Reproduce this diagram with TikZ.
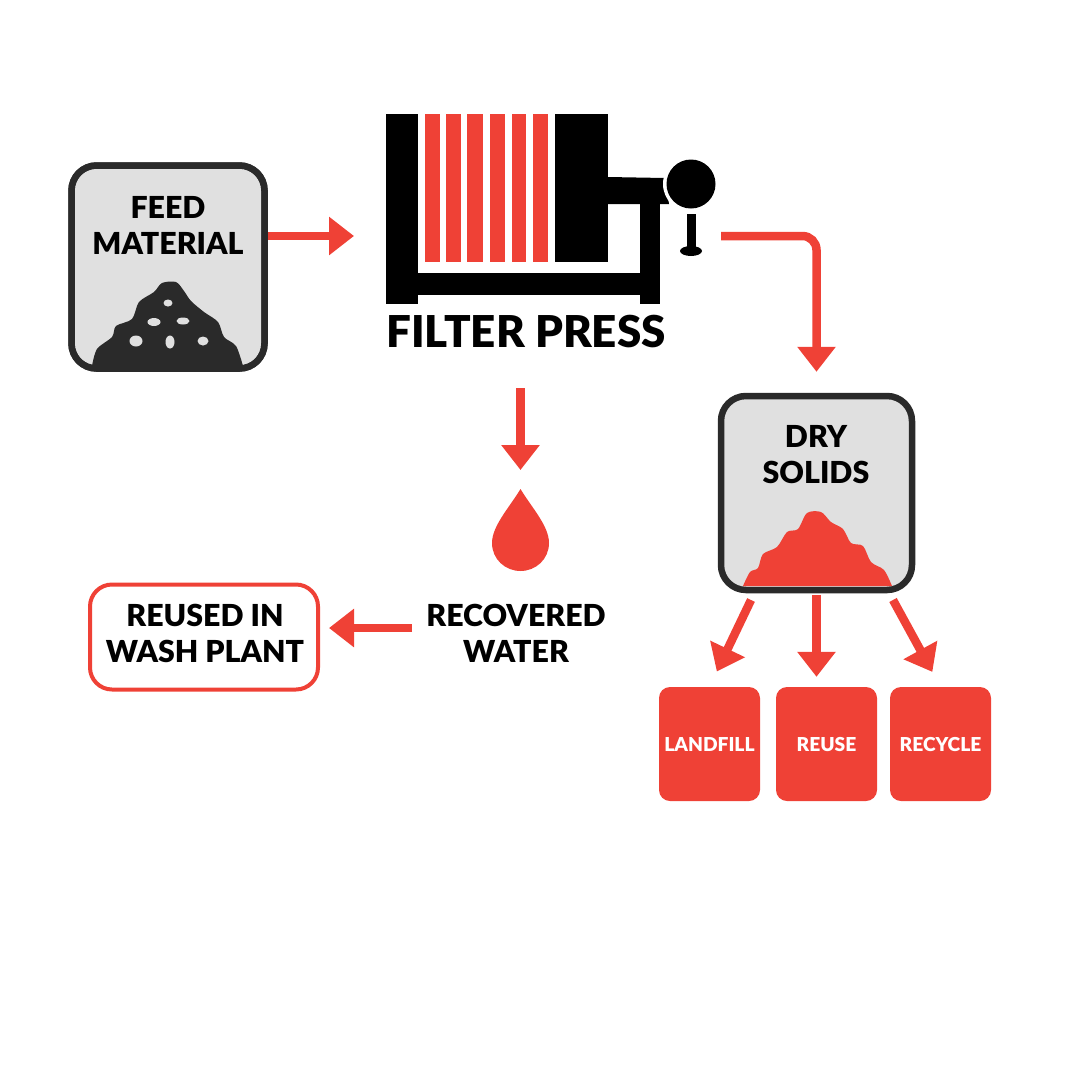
\documentclass[tikz,border=0pt]{standalone}
\usepackage{fontspec}
\setmainfont{Lato}[BoldFont={Lato Black}]
\usetikzlibrary{arrows.meta}
\definecolor{flowred}{HTML}{EF4136}
\definecolor{boxgray}{HTML}{E0E0E0}
\definecolor{boxline}{HTML}{2A2A2A}

\begin{document}
\begin{tikzpicture}[x=1pt, y=-1pt]

\def\BoxWidth{193pt}
\def\BoxHeight{200pt}
\def\BinWidth{101pt}
\def\BinHeight{114pt}

% Styles
\tikzstyle{box} =
	[draw=boxline, fill=boxgray, line width=6.5pt, rounded corners=25pt,
	 minimum width=\BoxWidth, minimum height=\BoxHeight]

\tikzstyle{bin} =
	[fill=flowred, text=white, rounded corners=11pt, inner sep=0pt,
	 minimum width=\BinWidth, minimum height=\BinHeight,
	 font=\fontsize{19.2}{23}\selectfont\bfseries]

\tikzstyle{label text} =
	[align=center, inner sep=0pt, font=\fontsize{30.3}{36}\selectfont\bfseries]

\tikzstyle{flow} =
	[draw=flowred, line width=8.5pt, -{Triangle[length=25pt, width=37pt]}]

\useasboundingbox (0, 0) rectangle (1080, 1080);

% Modules

\node (FeedMaterial) at (168, 267) [box, minimum height=203pt] {};
\fill[boxline] plot[smooth] coordinates {(92,366) (97,349) (112,337) (116,326)
	(132,319) (139,302) (154,292) (162,283) (176,282) (184,291) (191,301)
	(204,312) (218,322) (224,337) (236,346) (243,366)} -- cycle;
\foreach \PebbleX/\PebbleY/\PebbleA/\PebbleB in
	{168/303/4.5/3.5, 154/322/6.5/4, 183/321/6.5/3.5, 136/341/6.5/5.5, 170/342/4.5/6.5, 203/341/5.5/4.5}
	\fill[boxgray] (\PebbleX, \PebbleY) ellipse [x radius=\PebbleA, y radius=\PebbleB];
\draw[boxline, line width=6.5pt, rounded corners=25pt]
	(FeedMaterial.south west) ++(3.25, -3.25) rectangle ([xshift=-3.25pt, yshift=-3.25pt]FeedMaterial.north east);
\node (FeedLabel) at (168, 225) [label text] {FEED\\MATERIAL};

% the press itself
\fill (386, 114) rectangle (418, 304);
\fill (418, 273) rectangle (640, 295);
\fill (640, 204) rectangle (660, 304);
\fill (555, 114) rectangle (608, 262);
\fill (608, 177) -- (665, 178) -- (669, 204) -- (608, 204) -- cycle;
\foreach \PlateL/\PlateR in {425/440, 446/461, 467/483, 490/505, 512/526, 533/548}
	\fill[flowred] (\PlateL, 114) rectangle (\PlateR, 262);
\fill[white] (691, 184) circle (28);
\fill (691, 184) circle (24.5);
\fill (687, 214) rectangle (696, 250);
\fill (691, 251) ellipse [x radius=11, y radius=5];
\node (FilterPress) at (526, 332) [label text, font=\fontsize{43.9}{50}\selectfont\bfseries] {FILTER PRESS};

\node (DrySolids) at (816.5, 493) [box, minimum width=191pt, minimum height=194pt] {};
\fill[flowred] plot[smooth] coordinates {(743,586) (750,572) (758,568) (763,554)
	(777,547) (787,532) (798,529) (807,513) (821,512) (831,522) (843,529)
	(851,543) (863,546) (871,562) (884,570) (892,586)} -- cycle;
\node (DryLabel) at (816, 455) [label text] {DRY\\SOLIDS};

\fill[flowred] (520.5, 489) .. controls (509, 508) and (492, 526) .. (492, 543)
	.. controls (492, 559) and (505, 571) .. (520.5, 571)
	.. controls (536, 571) and (549, 559) .. (549, 543)
	.. controls (549, 526) and (532, 508) .. (520.5, 489) -- cycle;
\node (RecoveredWater) at (516, 633.5) [label text] {RECOVERED\\WATER};

\node (Reused) at (204, 637) [draw=flowred, line width=4pt, rounded corners=22pt,
	minimum width=228pt, minimum height=105pt] {};
\node (ReusedLabel) at (205, 633.5) [label text] {REUSED IN\\WASH PLANT};

\node (Landfill) at (709.5, 744) [bin] {LANDFILL};
\node (Reuse) at (826.5, 744) [bin] {REUSE};
\node (Recycle) at (940.5, 744) [bin] {RECYCLE};

% Edges

\coordinate (PressIn) at (354, 236);
\coordinate (PressOut) at (721, 236);
\coordinate (PressDown) at (520.5, 388);
\coordinate (DropTop) at (520.5, 470);
\coordinate (WaterOut) at (412, 628);
\coordinate (DryLeft) at (751, 600);
\coordinate (DryRight) at (893, 600);

\draw[flow] (FeedMaterial.east |- PressIn) -- (PressIn);
\draw[flow, rounded corners=14pt, shorten >=21pt] (PressOut) -| (DrySolids.north);
\draw[flow] (PressDown) -- (DropTop);
\draw[flow, shorten >=9pt] (WaterOut) -- (WaterOut -| Reused.east);
\draw[flow, shorten >=17pt] (DryLeft) -- (Landfill.north);
\draw[flow, shorten <=2pt, shorten >=10pt] (DrySolids.south) -- (DrySolids.south |- Reuse.north);
\draw[flow, shorten >=17pt] (DryRight) -- (Recycle.north);

\end{tikzpicture}
\end{document}
